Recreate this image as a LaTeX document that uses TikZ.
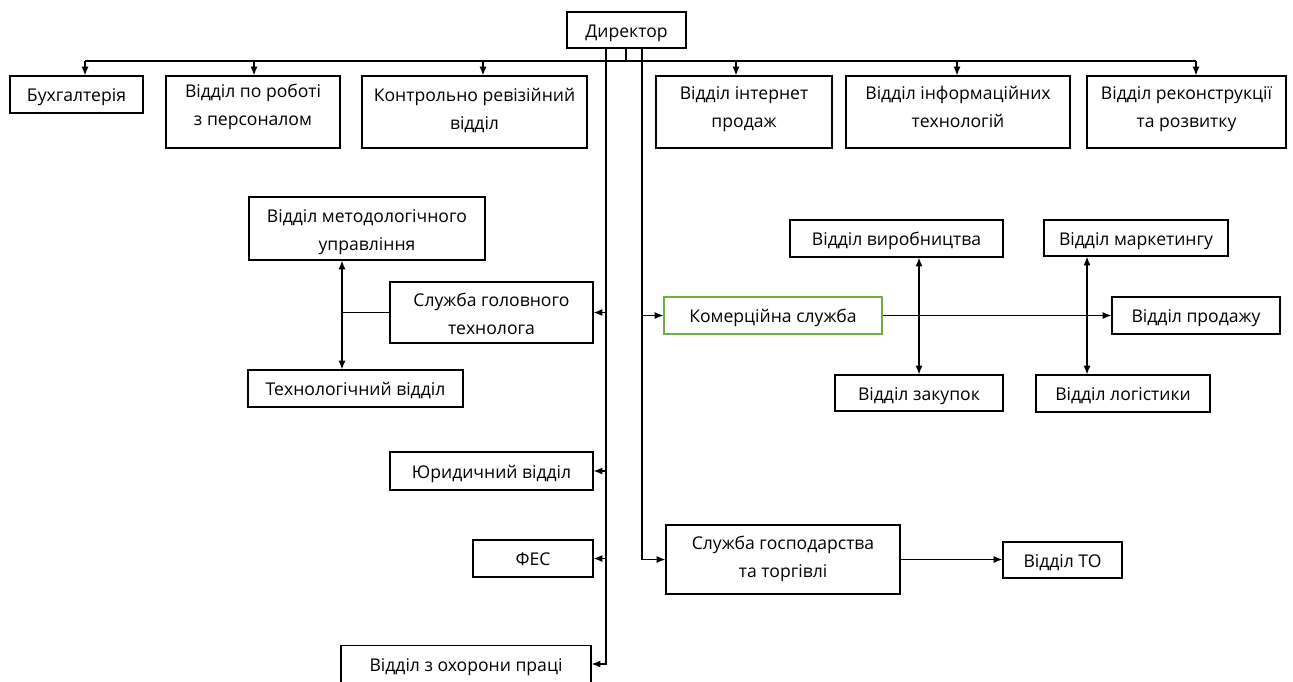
\documentclass[tikz,border=0pt]{standalone}
\usepackage{fontspec}
\setmainfont{Open Sans}
\usetikzlibrary{arrows.meta}
\definecolor{komgreen}{RGB}{112,173,71}

\begin{document}
\begin{tikzpicture}[x=0.02cm, y=-0.02cm,
  box/.style={draw, rectangle, align=center, inner sep=0pt, line width=0.6pt,
    font=\fontsize{10}{16}\selectfont, text height=8.4pt, text depth=0pt},
  two/.style={text height=#1, text depth=0pt},
  two/.default=18pt,
  wh/.style 2 args={minimum width=#1*0.02cm, minimum height=#2*0.02cm},
  conn/.style={line width=0.8pt},
  arr/.style={conn, -{Latex[length=5pt,width=4pt]}},
  darr/.style={conn, {Latex[length=5pt,width=4pt]}-{Latex[length=5pt,width=4pt]}}]
  \useasboundingbox (0,0) rectangle (1293,681);

  \node[box, wh={119}{36}] (dir) at (626.5,30) {Директор};

  \node[box, wh={133}{37}] (buh) at (76.5,94.5) {Бухгалтерія};
  \node[box, two=15pt, wh={174}{72}] (pers) at (253,112) {Відділ по роботі\\з персоналом};
  \node[box, two=19.5pt, wh={225}{72}] (kontr) at (474.5,112) {Контрольно ревізійний\\відділ};
  \node[box, two, wh={176}{72}] (inet) at (744,112) {Відділ інтернет\\продаж};
  \node[box, two, wh={224}{72}] (info) at (958,112) {Відділ інформаційних\\технологій};
  \node[box, two, wh={199}{72}] (rekon) at (1186.5,112) {Відділ реконструкції\\та розвитку};

  \node[box, two=25.5pt, wh={236}{63}] (metod) at (367,228.5) {Відділ методологічного\\управління};
  \node[box, two=25.5pt, wh={203}{61}] (golov) at (491.5,312.5) {Служба головного\\технолога};
  \node[box, wh={215}{37}] (tekh) at (355.5,388.5) {Технологічний відділ};

  \node[box, wh={218}{37}, draw=komgreen] (komer) at (773,315.5) {Комерційна служба};
  \node[box, wh={213}{37}] (vyrob) at (896.5,238.5) {Відділ виробництва};
  \node[box, wh={168}{36}] (zakup) at (919,393) {Відділ закупок};
  \node[box, wh={184}{36}] (market) at (1136,238) {Відділ маркетингу};
  \node[box, wh={174}{37}] (logist) at (1123,393.5) {Відділ логістики};
  \node[box, wh={168}{37}] (prod) at (1196,315.5) {Відділ продажу};

  \node[box, wh={203}{38}] (yuryd) at (491.5,471) {Юридичний відділ};
  \node[box, wh={120}{37}] (fes) at (533,558.5) {ФЕС};
  \node[box, wh={250}{37}] (okhor) at (466,664) {Відділ з охорони праці};

  \node[box, two=20.5pt, wh={234}{69}] (gosp) at (783,559.5) {Служба господарства\\та торгівлі};
  \node[box, wh={119}{36}] (to) at (1062.5,560) {Відділ ТО};

  \coordinate (bus) at (626,61);
  \coordinate (ltop) at (606,48);
  \coordinate (rtop) at (642,48);
  \coordinate (tx) at (342,315);
  \coordinate (mx) at (1087,315);

  \draw[conn] (dir.south -| bus) -- (bus);
  \draw[conn] ([xshift=8.5*0.02cm]buh.north |- bus) -- ([xshift=9.5*0.02cm]rekon.north |- bus);
  \foreach \n/\dx in {buh/8.5,pers/1,kontr/8.5,inet/-8,info/-1,rekon/9.5}
    \draw[arr] ([xshift=\dx*0.02cm]\n.north |- bus) -- ([xshift=\dx*0.02cm]\n.north);

  \draw[arr] (ltop) |- (okhor.east);
  \foreach \n in {golov,yuryd,fes}
    \draw[arr] (\n.east -| ltop) -- (\n.east);
  \draw[arr] (rtop) |- (gosp.west);
  \draw[arr] (komer.west -| rtop) -- (komer.west);

  \draw[darr] (metod.south -| tx) -- (tekh.north -| tx);
  \draw[conn] (golov.west) -- (golov.west -| tx);

  \draw[darr] (vyrob.south -| zakup.north) -- (zakup.north);
  \draw[darr] (market.south -| mx) -- (logist.north -| mx);
  \draw[arr] (komer.east) -- (prod.west);

  \draw[arr] (gosp.east) -- (gosp.east -| to.west);
\end{tikzpicture}
\end{document}
